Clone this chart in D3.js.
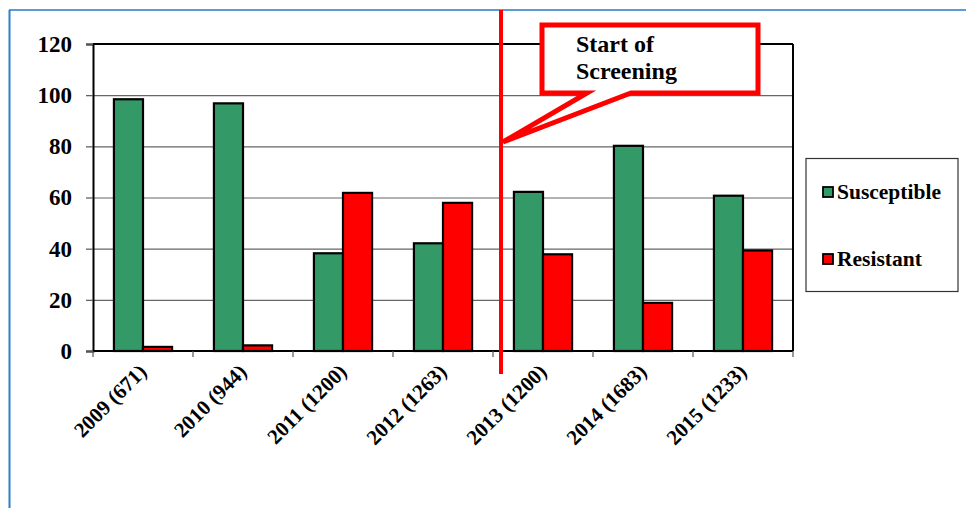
<!DOCTYPE html>
<html>
<head>
<meta charset="utf-8">
<script src="https://cdn.jsdelivr.net/npm/d3@7"></script>
<style>
  body { margin: 0; background: #fff; }
  text { font-family: "Liberation Serif", "Times New Roman", serif; font-weight: bold; fill: #000; }
</style>
</head>
<body>
<svg id="chart" width="966" height="508"></svg>
<script>
// data
var years = ['2009 (671)', '2010 (944)', '2011 (1200)', '2012 (1263)', '2013 (1200)', '2014 (1683)', '2015 (1233)']
var susceptible = [98.4, 96.8, 38.2, 42.1, 62.2, 80.2, 60.7]
var resistant = [1.6, 2.2, 61.8, 57.9, 37.8, 18.8, 39.3]
var seriesNames = ['Susceptible', 'Resistant']
var yTicks = [0, 20, 40, 60, 80, 100, 120]
var markerYear = '2013 (1200)'

var svg = d3.select('#chart')
var pL = 93, pR = 793, pT = 44, pB = 351
var colors = {'Susceptible': '#339966', 'Resistant': '#ff0000'}

// outer blue frame (only top and left show)
svg.append('line').attr('x1', 9).attr('x2', 966).attr('y1', 10).attr('y2', 10)
  .attr('stroke', '#5b9bd5').attr('stroke-width', 2)
svg.append('line').attr('x1', 9.5).attr('x2', 9.5).attr('y1', 10).attr('y2', 508)
  .attr('stroke', '#2f7fc8').attr('stroke-width', 2)

var x = d3.scaleBand().domain(years).range([pL, pR])
var xs = d3.scaleBand().domain(seriesNames).range([0, x.bandwidth()]).paddingInner(0).paddingOuter(0.72)
var y = d3.scaleLinear().domain([0, 120]).range([pB, pT])

// grid
svg.append('g').selectAll('line').data(yTicks.slice(1, -1)).join('line')
  .attr('x1', pL).attr('x2', pR)
  .attr('y1', function(d) { return y(d) + 0.5 }).attr('y2', function(d) { return y(d) + 0.5 })
  .attr('stroke', '#666').attr('stroke-width', 1.2)

// y axis
var yAxis = svg.append('g').attr('transform', 'translate(' + pL + ',0)')
  .call(d3.axisLeft(y).tickValues(yTicks).tickSize(7).tickPadding(14))
yAxis.select('.domain').attr('stroke', '#000').attr('stroke-width', 2)
yAxis.selectAll('.tick line').attr('stroke', '#555').attr('stroke-width', 1.2)
yAxis.selectAll('.tick text').style('font-size', '23px').attr('fill', '#000')

// top and right of plot frame
svg.append('line').attr('x1', pL).attr('x2', pR).attr('y1', pT).attr('y2', pT)
  .attr('stroke', '#000').attr('stroke-width', 2)
svg.append('line').attr('x1', pR).attr('x2', pR).attr('y1', pT).attr('y2', pB)
  .attr('stroke', '#000').attr('stroke-width', 2)

// bars
var rows = years.map(function(yr, i) {
  return [{year: yr, name: 'Susceptible', v: susceptible[i]}, {year: yr, name: 'Resistant', v: resistant[i]}]
})
svg.append('g').selectAll('g').data(rows).join('g')
  .attr('transform', function(d) { return 'translate(' + x(d[0].year) + ',0)' })
  .selectAll('rect').data(function(d) { return d }).join('rect')
  .attr('x', function(d) { return xs(d.name) })
  .attr('width', xs.bandwidth())
  .attr('y', function(d) { return y(d.v) })
  .attr('height', function(d) { return y(0) - y(d.v) })
  .attr('fill', function(d) { return colors[d.name] })
  .attr('stroke', '#000').attr('stroke-width', 2.2)

// x axis with ticks at category boundaries
var bounds = years.map(function(d) { return x(d) }).concat([pR])
var xAxis = svg.append('g')
xAxis.append('line').attr('x1', pL).attr('x2', pR).attr('y1', pB).attr('y2', pB)
  .attr('stroke', '#000').attr('stroke-width', 2)
xAxis.selectAll('.tk').data(bounds).join('line').attr('class', 'tk')
  .attr('x1', function(d) { return d }).attr('x2', function(d) { return d })
  .attr('y1', pB).attr('y2', pB + 6)
  .attr('stroke', '#555').attr('stroke-width', 1.2)
xAxis.selectAll('text').data(years).join('text')
  .attr('transform', function(d) { return 'translate(' + (x(d) + x.bandwidth() / 2 + 5) + ',' + (pB + 22) + ') rotate(-45)' })
  .attr('text-anchor', 'end')
  .style('font-size', '21px')
  .text(function(d) { return d })

// red marker line
var mx = x(markerYear) + 8
svg.append('line').attr('x1', mx).attr('x2', mx).attr('y1', 10).attr('y2', 374)
  .attr('stroke', '#ff0000').attr('stroke-width', 4)

// callout
var bx0 = 542, bx1 = 758, by0 = 25, by1 = 93
var callout = [[bx0, by0], [bx1, by0], [bx1, by1], [631, by1], [mx + 2, 142], [587, by1], [bx0, by1]]
svg.append('path').attr('d', d3.line()(callout) + 'Z')
  .attr('fill', '#fff').attr('stroke', '#ff0000').attr('stroke-width', 5).attr('stroke-linejoin', 'miter')
svg.append('text').attr('x', 576).attr('y', 52).style('font-size', '24px').text('Start of')
svg.append('text').attr('x', 576).attr('y', 79).style('font-size', '24px').text('Screening')

// legend
svg.append('rect').attr('x', 806).attr('y', 158.5).attr('width', 152).attr('height', 133)
  .attr('fill', '#fff').attr('stroke', '#333').attr('stroke-width', 1.2)
var leg = svg.append('g').selectAll('g').data(seriesNames).join('g')
  .attr('transform', function(d, i) { return 'translate(823,' + (187 + i * 67) + ')' })
leg.append('rect').attr('width', 10).attr('height', 10)
  .attr('fill', function(d) { return colors[d] }).attr('stroke', '#000').attr('stroke-width', 1.8)
leg.append('text').attr('x', 14).attr('y', 12).style('font-size', '21.5px').text(function(d) { return d })
</script>
</body>
</html>
